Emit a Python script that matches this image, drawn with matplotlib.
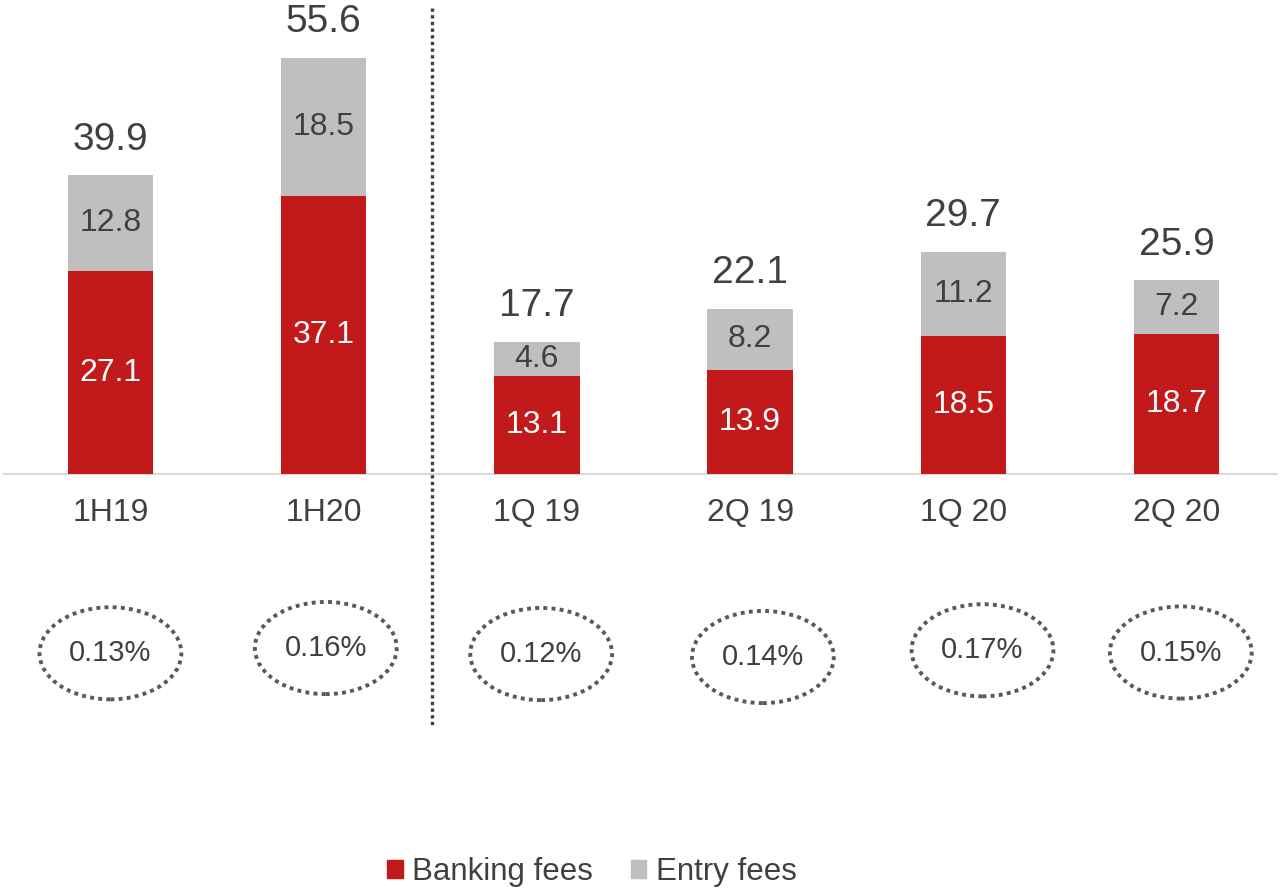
import matplotlib
matplotlib.use("Agg")
import matplotlib.pyplot as plt
from matplotlib.patches import Ellipse, Patch
import numpy as np

plt.rcParams['font.family'] = ['Liberation Sans', 'DejaVu Sans']

# data
periods = ["1H19", "1H20", "1Q 19", "2Q 19", "1Q 20", "2Q 20"]
banking_fees = [27.1, 37.1, 13.1, 13.9, 18.5, 18.7]
entry_fees = [12.8, 18.5, 4.6, 8.2, 11.2, 7.2]
totals = [39.9, 55.6, 17.7, 22.1, 29.7, 25.9]
ratios = ["0.13%", "0.16%", "0.12%", "0.14%", "0.17%", "0.15%"]

RED = "#C21A1A"
GREY = "#BFBFBF"
TEXT = "#404040"

fig = plt.figure(figsize=(12.81, 8.90), dpi=100)
ax = fig.add_axes([0, 0, 1, 1])

x = np.arange(len(periods))
w = 0.40
ax.bar(x, banking_fees, w, color=RED, zorder=2)
ax.bar(x, entry_fees, w, bottom=banking_fees, color=GREY, zorder=2)

# baseline
ax.axhline(0, xmin=0.003, xmax=0.997, color="#D9D9D9", lw=1.5, zorder=1)

for i in range(len(periods)):
    b = banking_fees[i]
    e = entry_fees[i]
    ax.text(x[i], b / 2, f"{b:.1f}", ha="center", va="center",
            color="white", fontsize=23)
    ax.text(x[i], b + e / 2, f"{e:.1f}", ha="center", va="center",
            color=TEXT, fontsize=23)
    ax.text(x[i], totals[i] + 3.4, f"{totals[i]:.1f}", ha="center",
            va="baseline", color=TEXT, fontsize=28)
    ax.text(x[i], -5.2, periods[i], ha="center", va="center",
            color=TEXT, fontsize=23)

# dotted ovals with the ratio inside (they sit a bit off-centre on the slide)
oval_dx = [0.0, 0.01, 0.02, 0.06, 0.09, 0.02]
oval_dy = [-23.9, -23.2, -24.0, -24.4, -23.5, -23.8]
for i, r in enumerate(ratios):
    cx = x[i] + oval_dx[i]
    cy = oval_dy[i]
    ax.add_patch(Ellipse((cx, cy), 0.665, 12.3, fill=False, ec="#595959",
                         lw=2.8, ls=(0, (1, 1.1)), zorder=3))
    ax.text(cx, cy, r, ha="center", va="center", color=TEXT, fontsize=21)

# separator between half-years and quarters
ax.plot([1.51, 1.51], [62.2, -33.7], color=TEXT, lw=2.4,
        ls=(0, (1, 1)), zorder=3)

ax.set_xlim(-0.518, 5.49)
ax.set_ylim(-55.5, 63.3)
ax.axis("off")

handles = [Patch(color=RED, label="Banking fees"),
           Patch(color=GREY, label="Entry fees")]
fig.legend(handles=handles, loc="center", bbox_to_anchor=(0.462, 0.02),
           ncol=2, frameon=False, fontsize=22.5, handlelength=0.5,
           handleheight=0.5, handletextpad=0.3, columnspacing=1.2,
           labelcolor=TEXT)

fig.savefig("out.png", dpi=100)
